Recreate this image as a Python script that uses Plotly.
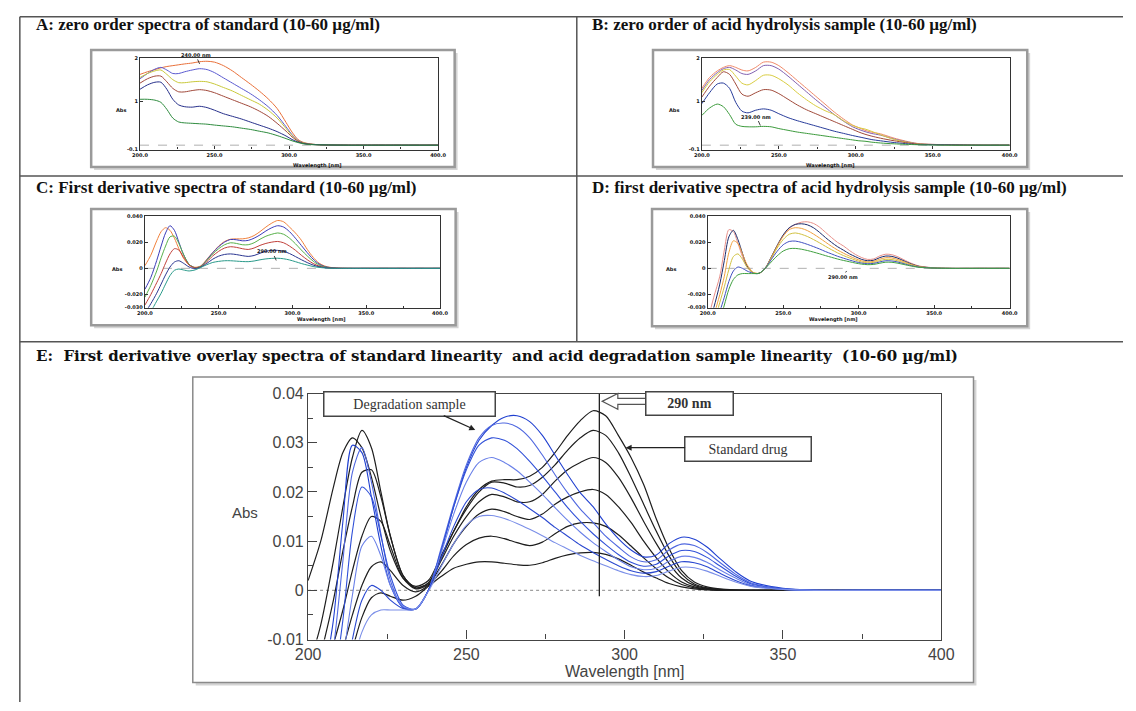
import plotly.graph_objects as go

# ---------------- DATA ----------------
# First-derivative spectra (panels C, D, E), wavelength grid in nm
WL_E = [200, 204, 208, 211, 214, 217, 220, 223, 226, 230, 234, 238, 242, 246, 250, 254, 258, 262, 266, 270,
        274, 278, 282, 286, 290, 294, 298, 302, 306, 310, 314, 318, 322, 326, 330, 335, 340, 350, 360, 380, 400]

# Standard drug, 60 -> 10 ug/ml
STD_60 = [0.002, 0.010, 0.021, 0.028, 0.031, 0.029, 0.023, 0.015, 0.008, 0.0025, 0.0008, 0.002, 0.007, 0.012, 0.017,
          0.0205, 0.0222, 0.0225, 0.0225, 0.0232, 0.025, 0.028, 0.0315, 0.0345, 0.0365, 0.0355, 0.0315, 0.027, 0.0215,
          0.0145, 0.0085, 0.004, 0.0017, 0.0007, 0.0003, 0.0001, 0.0, 0.0, 0.0, 0.0, 0.0]
STD_50 = [-0.016, -0.007, 0.006, 0.017, 0.027, 0.0325, 0.029, 0.020, 0.011, 0.003, 0.0005, 0.0015, 0.0065, 0.012,
          0.0165, 0.020, 0.022, 0.0218, 0.021, 0.0213, 0.023, 0.0255, 0.0285, 0.031, 0.0325, 0.0315, 0.028, 0.023,
          0.0175, 0.012, 0.007, 0.0033, 0.0013, 0.0005, 0.0002, 0.0, 0.0, 0.0, 0.0, 0.0, 0.0]
STD_40 = [-0.022, -0.013, -0.002, 0.008, 0.017, 0.024, 0.0245, 0.019, 0.011, 0.003, 0.0005, 0.0015, 0.006, 0.011,
          0.015, 0.018, 0.0195, 0.019, 0.018, 0.018, 0.0195, 0.0222, 0.0245, 0.026, 0.027, 0.026, 0.023, 0.0188,
          0.014, 0.0095, 0.0055, 0.0025, 0.001, 0.0004, 0.0001, 0.0, 0.0, 0.0, 0.0, 0.0, 0.0]
STD_30 = [-0.028, -0.02, -0.011, -0.004, 0.004, 0.011, 0.015, 0.014, 0.009, 0.0025, 0.0003, 0.0012, 0.005, 0.0095,
          0.013, 0.0155, 0.0165, 0.016, 0.015, 0.0144, 0.0155, 0.0175, 0.019, 0.020, 0.0205, 0.0195, 0.017, 0.0138,
          0.010, 0.0066, 0.0037, 0.0017, 0.0007, 0.0003, 0.0001, 0.0, 0.0, 0.0, 0.0, 0.0, 0.0]
STD_20 = [-0.034, -0.027, -0.019, -0.012, -0.005, 0.001, 0.0048, 0.0058, 0.004, 0.001, -0.0003, 0.001, 0.0038, 0.007,
          0.0093, 0.0106, 0.011, 0.0105, 0.0097, 0.0091, 0.0098, 0.0115, 0.013, 0.0137, 0.0137, 0.013, 0.0113, 0.009,
          0.0066, 0.0044, 0.0025, 0.0012, 0.0005, 0.0002, 0.0, 0.0, 0.0, 0.0, 0.0, 0.0, 0.0]
STD_10 = [-0.04, -0.033, -0.025, -0.019, -0.012, -0.0055, -0.0015, -0.0005, -0.0012, -0.002, -0.0012, 0.0008, 0.0028,
          0.0045, 0.0053, 0.0058, 0.0058, 0.0055, 0.0052, 0.0051, 0.0056, 0.0065, 0.0072, 0.0076, 0.0077, 0.0073,
          0.0064, 0.0051, 0.0037, 0.0025, 0.0014, 0.0007, 0.0003, 0.0001, 0.0, 0.0, 0.0, 0.0, 0.0, 0.0, 0.0]

# Acid degradation sample, 60 -> 10 ug/ml
DEG_60 = [-0.04, -0.022, -0.006, 0.014, 0.0295, 0.028, 0.019, 0.009, 0.001, -0.0035, -0.0038, 0.0, 0.008, 0.017,
          0.025, 0.0305, 0.0335, 0.0352, 0.0355, 0.0343, 0.0315, 0.0275, 0.0235, 0.0198, 0.017, 0.0135, 0.0105,
          0.0082, 0.0068, 0.0072, 0.0095, 0.0108, 0.0104, 0.0088, 0.0065, 0.0038, 0.0018, 0.0004, 0.0, 0.0, 0.0]
DEG_50 = [-0.045, -0.03, -0.012, 0.006, 0.024, 0.029, 0.022, 0.0115, 0.002, -0.0035, -0.0038, 0.0, 0.0085, 0.0175,
          0.0255, 0.031, 0.0335, 0.034, 0.0332, 0.031, 0.0275, 0.0235, 0.0198, 0.0165, 0.0138, 0.011, 0.0088, 0.0068,
          0.0058, 0.0062, 0.0082, 0.0094, 0.0091, 0.0077, 0.0057, 0.0033, 0.0015, 0.0003, 0.0, 0.0, 0.0]
DEG_40 = [-0.05, -0.036, -0.02, -0.006, 0.012, 0.021, 0.019, 0.011, 0.003, -0.003, -0.0038, 0.0, 0.008, 0.017,
          0.0245, 0.0295, 0.031, 0.0305, 0.0288, 0.0262, 0.0232, 0.020, 0.0168, 0.014, 0.0115, 0.0093, 0.0073, 0.0057,
          0.0049, 0.0053, 0.007, 0.0081, 0.0079, 0.0067, 0.005, 0.0029, 0.0013, 0.0003, 0.0, 0.0, 0.0]
DEG_30 = [-0.055, -0.042, -0.026, -0.014, -0.001, 0.009, 0.011, 0.007, 0.001, -0.0032, -0.0038, 0.0, 0.0075, 0.0155,
          0.022, 0.026, 0.027, 0.026, 0.0243, 0.022, 0.0195, 0.0168, 0.0142, 0.0118, 0.0097, 0.0079, 0.0062, 0.0048,
          0.0042, 0.0045, 0.0059, 0.0069, 0.0067, 0.0057, 0.0042, 0.0025, 0.0011, 0.0002, 0.0, 0.0, 0.0]
DEG_20 = [-0.06, -0.048, -0.033, -0.022, -0.01, -0.002, 0.001, 0.0, -0.002, -0.0037, -0.0038, 0.0, 0.0065, 0.013,
          0.018, 0.0205, 0.0208, 0.0198, 0.0183, 0.0166, 0.0148, 0.0128, 0.011, 0.0092, 0.0077, 0.0063, 0.005, 0.004,
          0.0035, 0.0038, 0.0049, 0.0058, 0.0056, 0.0048, 0.0035, 0.002, 0.0009, 0.0002, 0.0, 0.0, 0.0]
DEG_10 = [-0.065, -0.055, -0.04, -0.028, -0.016, -0.0085, -0.005, -0.004, -0.004, -0.004, -0.0038, -0.0002, 0.0048,
          0.0095, 0.0132, 0.015, 0.0152, 0.0146, 0.0136, 0.0124, 0.0111, 0.0097, 0.0084, 0.0071, 0.006, 0.005, 0.004,
          0.0032, 0.0028, 0.003, 0.0039, 0.0047, 0.0046, 0.0039, 0.0029, 0.0017, 0.0008, 0.0002, 0.0, 0.0, 0.0]

# Zero-order spectra (panels A, B)
WL_Z = [200, 205, 210, 214, 218, 222, 226, 230, 235, 240, 245, 250, 256, 262, 268, 274, 280, 286, 292, 298,
        302, 306, 310, 316, 325, 340, 360, 380, 400]
ZS_60 = [1.62, 1.68, 1.73, 1.77, 1.80, 1.82, 1.84, 1.86, 1.88, 1.91, 1.92, 1.90, 1.82, 1.70, 1.55, 1.40, 1.24, 1.06,
         0.84, 0.52, 0.30, 0.13, 0.06, 0.02, 0.005, 0.0, 0.0, 0.0, 0.0]
ZS_50 = [1.52, 1.64, 1.74, 1.78, 1.72, 1.64, 1.64, 1.68, 1.72, 1.75, 1.73, 1.66, 1.54, 1.42, 1.30, 1.18, 1.04, 0.88,
         0.68, 0.42, 0.24, 0.11, 0.05, 0.02, 0.005, 0.0, 0.0, 0.0, 0.0]
ZS_40 = [1.55, 1.64, 1.70, 1.72, 1.62, 1.50, 1.43, 1.43, 1.45, 1.46, 1.45, 1.40, 1.32, 1.24, 1.14, 1.04, 0.94, 0.80,
         0.62, 0.38, 0.22, 0.10, 0.05, 0.02, 0.005, 0.0, 0.0, 0.0, 0.0]
ZS_30 = [1.42, 1.52, 1.58, 1.58, 1.45, 1.30, 1.22, 1.22, 1.25, 1.27, 1.25, 1.20, 1.12, 1.04, 0.96, 0.88, 0.78, 0.66,
         0.50, 0.32, 0.19, 0.09, 0.04, 0.015, 0.005, 0.0, 0.0, 0.0, 0.0]
ZS_20 = [1.28, 1.38, 1.44, 1.44, 1.28, 1.05, 0.92, 0.88, 0.87, 0.89, 0.86, 0.80, 0.72, 0.66, 0.60, 0.53, 0.46, 0.39,
         0.31, 0.21, 0.13, 0.07, 0.035, 0.015, 0.005, 0.0, 0.0, 0.0, 0.0]
ZS_10 = [1.05, 1.05, 1.03, 0.98, 0.82, 0.62, 0.53, 0.51, 0.50, 0.49, 0.48, 0.46, 0.44, 0.42, 0.39, 0.36, 0.32, 0.28,
         0.22, 0.15, 0.10, 0.06, 0.03, 0.01, 0.005, 0.0, 0.0, 0.0, 0.0]

ZA_60 = [1.30, 1.55, 1.70, 1.78, 1.82, 1.78, 1.72, 1.70, 1.78, 1.90, 1.90, 1.82, 1.66, 1.48, 1.30, 1.12, 0.94, 0.76,
         0.60, 0.46, 0.40, 0.34, 0.30, 0.26, 0.16, 0.04, 0.01, 0.0, 0.0]
ZA_50 = [1.25, 1.50, 1.66, 1.75, 1.78, 1.72, 1.64, 1.62, 1.70, 1.82, 1.82, 1.74, 1.58, 1.40, 1.22, 1.04, 0.87, 0.70,
         0.55, 0.42, 0.36, 0.31, 0.27, 0.23, 0.14, 0.035, 0.01, 0.0, 0.0]
ZA_40 = [1.20, 1.45, 1.62, 1.72, 1.73, 1.58, 1.42, 1.38, 1.48, 1.60, 1.60, 1.52, 1.38, 1.20, 1.04, 0.90, 0.79, 0.70,
         0.56, 0.45, 0.40, 0.37, 0.32, 0.24, 0.13, 0.03, 0.01, 0.0, 0.0]
ZA_30 = [1.10, 1.35, 1.55, 1.68, 1.62, 1.40, 1.17, 1.12, 1.20, 1.27, 1.26, 1.18, 1.05, 0.92, 0.81, 0.72, 0.63, 0.54,
         0.45, 0.36, 0.30, 0.25, 0.21, 0.16, 0.10, 0.025, 0.01, 0.0, 0.0]
ZA_20 = [0.95, 1.20, 1.40, 1.42, 1.30, 0.98, 0.78, 0.74, 0.80, 0.83, 0.80, 0.72, 0.63, 0.56, 0.50, 0.44, 0.38, 0.32,
         0.27, 0.22, 0.19, 0.16, 0.13, 0.10, 0.06, 0.015, 0.005, 0.0, 0.0]
ZA_10 = [0.68, 0.85, 0.94, 0.88, 0.70, 0.48, 0.43, 0.42, 0.42, 0.43, 0.42, 0.38, 0.34, 0.30, 0.27, 0.24, 0.21, 0.18,
         0.15, 0.12, 0.10, 0.09, 0.07, 0.05, 0.03, 0.01, 0.0, 0.0, 0.0]

SMALL_XTICKS = [200, 250, 300, 350, 400]
SMALL_XTEXT = ["200.0", "250.0", "300.0", "350.0", "400.0"]
ZERO_YTICKS = [-0.1, 1, 2]
ZERO_YTEXT = ["-0.1", "1", "2"]
DER_YTICKS = [-0.03, -0.02, 0, 0.02, 0.04]
DER_YTEXT = ["-0.030", "-0.020", "0", "0.020", "0.040"]
E_XTICKS = [200, 250, 300, 350, 400]
E_YTICKS = [-0.01, 0, 0.01, 0.02, 0.03, 0.04]
E_YTEXT = ["-0.01", "0", "0.01", "0.02", "0.03", "0.04"]

TITLES = {
    "A": "A: zero order spectra of standard (10-60 µg/ml)",
    "B": "B: zero order of acid hydrolysis sample (10-60 µg/ml)",
    "C": "C: First derivative spectra of standard (10-60 µg/ml)",
    "D": "D: first derivative spectra of acid hydrolysis sample (10-60 µg/ml)",
    "E": "E:  First derivative overlay spectra of standard linearity  and acid degradation sample linearity  (10-60 µg/ml)",
}

# ---------------- LAYOUT HELPERS ----------------
W, H = 1136, 711


def px(x):
    return x / W


def py(y):
    return 1 - y / H


A_COLORS = ["#e8703a", "#5a5ad0", "#c8c83a", "#a0483a", "#262f8a", "#2e8b3e"]
B_COLORS = ["#f08a6a", "#8060b0", "#d8cc40", "#a04a3a", "#283c9a", "#3c9a3c"]
C_COLORS = ["#f0803c", "#3a3ab8", "#58b04a", "#c0403a", "#2a3590", "#2a9a8a"]
D_COLORS = ["#e8908a", "#1a2a6a", "#f0a040", "#d0c040", "#4050c0", "#40a040"]
E_BLUES = ["#2040d0", "#5068e0", "#3050d8", "#6a80e8", "#2a48d0", "#7a8ee8"]

fig = go.Figure()


def add_line(ax, x, y, color, width, dash=None, shape="spline"):
    xa = "x" if ax == 1 else f"x{ax}"
    ya = "y" if ax == 1 else f"y{ax}"
    fig.add_trace(go.Scatter(x=x, y=y, mode="lines",
                             line=dict(color=color, width=width, dash=dash, shape=shape, smoothing=0.8),
                             xaxis=xa, yaxis=ya, hoverinfo="skip", showlegend=False))


# zero reference lines
for ax in (1, 2, 3, 4):
    add_line(ax, [200, 400], [0, 0], "#9a9a9a", 0.8, dash="dash", shape="linear")
add_line(5, [200, 400], [0, 0], "#a0a0a0", 1.2, dash="dot", shape="linear")

ZS = [ZS_60, ZS_50, ZS_40, ZS_30, ZS_20, ZS_10]
ZA = [ZA_60, ZA_50, ZA_40, ZA_30, ZA_20, ZA_10]
STD = [STD_60, STD_50, STD_40, STD_30, STD_20, STD_10]
DEG = [DEG_60, DEG_50, DEG_40, DEG_30, DEG_20, DEG_10]

for ys, c in zip(ZS, A_COLORS):
    add_line(1, WL_Z, ys, c, 1.0)
for ys, c in zip(ZA, B_COLORS):
    add_line(2, WL_Z, ys, c, 1.0)
for ys, c in zip(STD, C_COLORS):
    add_line(3, WL_E, ys, c, 1.0)
for ys, c in zip(DEG, D_COLORS):
    add_line(4, WL_E, ys, c, 1.0)
for ys in STD:
    add_line(5, WL_E, ys, "#1e1e1e", 1.2)
for ys, c in zip(DEG, E_BLUES):
    add_line(5, WL_E, ys, c, 1.1)

# 290 nm marker line in E
add_line(5, [292, 292], [-0.0012, 0.0405], "#222222", 1.3, shape="linear")

small_tickfont = dict(size=5, family="DejaVu Sans", color="#111", weight="bold")


def small_x(l, r, anchor):
    return dict(domain=[px(l), px(r)], range=[200, 400], anchor=anchor, showline=True, mirror=True,
                linecolor="#333", linewidth=1.3, ticks="inside", ticklen=3, tickcolor="#333",
                tickvals=SMALL_XTICKS, ticktext=SMALL_XTEXT, tickfont=small_tickfont,
                showgrid=False, zeroline=False, minor=dict(ticks="inside", ticklen=2, dtick=25, tickcolor="#333"))


def small_y(t, b, rng, tv, tt, anchor):
    return dict(domain=[py(b), py(t)], range=rng, anchor=anchor, showline=True, mirror=True,
                linecolor="#333", linewidth=1.3, ticks="inside", ticklen=3, tickcolor="#333",
                tickvals=tv, ticktext=tt, tickfont=small_tickfont, showgrid=False, zeroline=False)


e_tickfont = dict(size=16, family="Liberation Sans", color="#444")
layout = dict(
    width=W, height=H, margin=dict(l=0, r=0, t=0, b=0),
    paper_bgcolor="white", plot_bgcolor="white", showlegend=False,
    xaxis=small_x(130, 435, "y"),
    yaxis=small_y(51, 145, [-0.1, 2], ZERO_YTICKS, ZERO_YTEXT, "x"),
    xaxis2=small_x(705, 1020, "y2"),
    yaxis2=small_y(51, 145, [-0.1, 2], ZERO_YTICKS, ZERO_YTEXT, "x2"),
    xaxis3=small_x(135, 437, "y3"),
    yaxis3=small_y(213, 307, [-0.03, 0.04], DER_YTICKS, DER_YTEXT, "x3"),
    xaxis4=small_x(711, 1020, "y4"),
    yaxis4=small_y(213, 307, [-0.03, 0.04], DER_YTICKS, DER_YTEXT, "x4"),
    xaxis5=dict(domain=[px(302), px(950)], range=[200, 400], anchor="y5", showline=True, mirror=True,
                linecolor="#444", linewidth=1.3, ticks="inside", ticklen=9, tickcolor="#444",
                tickvals=E_XTICKS, tickfont=e_tickfont, showgrid=False, zeroline=False,
                minor=dict(ticks="inside", ticklen=5, dtick=25, tickcolor="#444")),
    yaxis5=dict(domain=[py(647), py(395)], range=[-0.01, 0.04], anchor="x5", showline=True, mirror=True,
                linecolor="#444", linewidth=1.3, ticks="inside", ticklen=9, tickcolor="#444",
                tickvals=E_YTICKS, ticktext=E_YTEXT, tickfont=e_tickfont, showgrid=False, zeroline=False,
                minor=dict(ticks="inside", ticklen=5, dtick=0.005, tickcolor="#444")),
)
fig.update_layout(**layout)

shapes = []


def pline(x0, y0, x1, y1, color="#555", width=1.5):
    shapes.append(dict(type="line", xref="paper", yref="paper", x0=px(x0), y0=py(y0), x1=px(x1), y1=py(y1),
                       line=dict(color=color, width=width), layer="above"))


def frame(x0, y0, x1, y1, color, width, shadow=3):
    shapes.append(dict(type="rect", xref="paper", yref="paper", x0=px(x0 + shadow), y0=py(y1 + shadow),
                       x1=px(x1 + shadow), y1=py(y0 + shadow), line=dict(width=0), fillcolor="#d4d4d4",
                       layer="below"))
    shapes.append(dict(type="rect", xref="paper", yref="paper", x0=px(x0), y0=py(y1), x1=px(x1), y1=py(y0),
                       line=dict(color=color, width=width), fillcolor="white", layer="below"))


# table rules
pline(7, 9, 1136, 9)
pline(7, 9, 7, 711)
pline(577, 9, 577, 342)
pline(7, 172, 1136, 172)
pline(7, 342, 1136, 342)

# plot frames
frame(80, 43, 452, 163, "#9a9a9a", 2.5)
frame(655, 43, 1038, 163, "#9a9a9a", 2.5)
frame(80, 206, 453, 325, "#9a9a9a", 2.5)
frame(654, 206, 1038, 326, "#9a9a9a", 2.5)
frame(184, 378, 983, 691, "#8a8a8a", 1.5)

# hollow "290 nm" arrow
pts = [(647, 400), (619, 400), (619, 395), (603, 403), (619, 411), (619, 406), (647, 406)]
path = "M " + " L ".join(f"{px(a):.5f},{py(b):.5f}" for a, b in pts)
shapes.append(dict(type="path", xref="paper", yref="paper", path=path, line=dict(color="#555", width=1.2),
                   fillcolor="white", layer="above"))
fig.update_layout(shapes=shapes)

ann = []
title_font = dict(family="Liberation Serif", size=17, color="#111", weight="bold")
for key, (x, y) in {"A": (22, 17), "B": (591, 17), "C": (22, 184), "D": (591, 184)}.items():
    ann.append(dict(text=TITLES[key], x=px(x), y=py(y), xref="paper", yref="paper", xanchor="left",
                    yanchor="middle", showarrow=False, font=title_font))
ann.append(dict(text=TITLES["E"], x=px(22), y=py(357), xref="paper", yref="paper", xanchor="left",
                yanchor="middle", showarrow=False,
                font=dict(family="DejaVu Serif", size=15, color="#111", weight="bold")))

tiny = dict(size=5, family="DejaVu Sans", color="#111", weight="bold")
for (x, y) in [(103, 99), (676, 99), (99, 267), (673, 267)]:
    ann.append(dict(text="Abs", x=px(x), y=py(y), xref="paper", yref="paper", showarrow=False, font=tiny))
for (x, y) in [(285, 156), (864, 156), (289, 319), (867, 319)]:
    ann.append(dict(text="Wavelength [nm]", x=px(x), y=py(y), xref="paper", yref="paper", showarrow=False,
                    font=tiny))

# peak markers in small panels
for axn, xv, yv, label in [("", 240, 1.86, "240.00 nm"), ("2", 238, 0.45, "239.00 nm"),
                           ("3", 289, 0.006, "290.00 nm"), ("4", 292, -0.002, "290.00 nm")]:
    ann.append(dict(text=label, x=xv, y=yv, xref="x" + axn, yref="y" + axn, showarrow=True, arrowhead=0,
                    arrowwidth=0.8, arrowcolor="#111", ax=-4, ay=-9 if axn != "4" else 6, font=tiny))

# E panel labels
ann.append(dict(text="Abs", x=px(222), y=py(528), xref="paper", yref="paper", showarrow=False,
                font=dict(size=15, family="Liberation Sans", color="#444")))
ann.append(dict(text="Wavelength [nm]", x=px(626), y=py(680), xref="paper", yref="paper", showarrow=False,
                yanchor="middle", font=dict(size=16, family="Liberation Sans", color="#444")))

box_font = dict(family="Liberation Serif", size=14, color="#333")
ann.append(dict(text="Degradation sample", x=px(406), y=py(405.5), xref="paper", yref="paper", showarrow=False,
                font=box_font, bordercolor="#444", borderwidth=1.5, borderpad=1, bgcolor="white",
                width=168, height=21))
ann.append(dict(text="<b>290 nm</b>", x=px(692), y=py(405), xref="paper", yref="paper", showarrow=False,
                font=box_font, bordercolor="#444", borderwidth=1.5, borderpad=1, bgcolor="white",
                width=84, height=20))
ann.append(dict(text="Standard drug", x=px(752.5), y=py(451.5), xref="paper", yref="paper", showarrow=False,
                font=box_font, bordercolor="#444", borderwidth=1.5, borderpad=1, bgcolor="white",
                width=123, height=21))
ann.append(dict(text="", x=252.8, y=0.0326, xref="x5", yref="y5", showarrow=True, arrowhead=2, arrowsize=1,
                arrowwidth=1.2, arrowcolor="#222", ax=-33, ay=-15))
ann.append(dict(text="", x=300.3, y=0.029, xref="x5", yref="y5", showarrow=True, arrowhead=2, arrowsize=1,
                arrowwidth=1.2, arrowcolor="#222", ax=61, ay=0))

fig.update_layout(annotations=ann)
fig.write_html("out.html", config={"displayModeBar": False},
               post_script="document.body.style.margin='0px';")
